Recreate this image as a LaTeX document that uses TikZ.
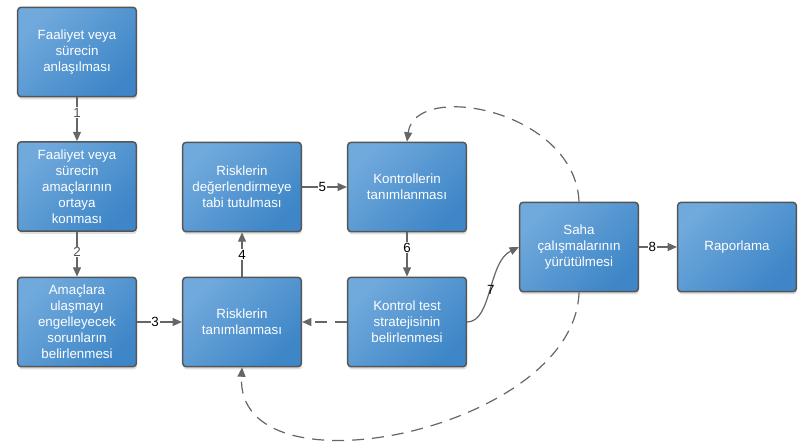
\documentclass[tikz,border=0pt]{standalone}
\usepackage{fontspec}
\setmainfont{Liberation Sans}
\usepackage{xcolor}
\usepackage{tikz}
\usetikzlibrary{arrows.meta,shadows}
\definecolor{boxlight}{HTML}{70A9DC}
\definecolor{boxdark}{HTML}{3E86C7}
\definecolor{boxline}{HTML}{555555}
\definecolor{linkgray}{HTML}{666666}
\tikzset{
  process/.style={
    draw=boxline,
    line width=1.1pt,
    rectangle,
    rounded corners=2.5pt,
    minimum width=89pt,
    minimum height=67pt,
    align=center,
    text=white,
    top color=boxlight,
    bottom color=boxdark,
    shading angle=45,
    drop shadow={shadow xshift=0.6pt, shadow yshift=-2pt, opacity=0.25},
    font=\fontsize{10}{12}\selectfont
  },
  link/.style={
    draw=linkgray,
    line width=0.9pt,
    -{Triangle[length=7pt,width=6pt]}
  },
  backlink/.style={
    link,
    dash pattern=on 9pt off 6pt
  },
  steplabel/.style={
    fill=white,
    inner sep=0.6pt,
    font=\fontsize{10}{12}\selectfont
  }
}

\begin{document}
\begin{tikzpicture}[x=0.75pt, y=-0.75pt]
  \useasboundingbox (0,0) rectangle (807,447);

  \node[process] (anlama) at (77,52) {Faaliyet veya\\sürecin\\anlaşılması};
  \node[process] (amac) at (77,186.5) {Faaliyet veya\\sürecin\\amaçlarının\\ortaya\\konması};
  \node[process] (sorun) at (77,322) {Amaçlara\\ulaşmayı\\engelleyecek\\sorunların\\belirlenmesi};
  \node[process] (risk) at (242,322) {Risklerin\\tanımlanması};
  \node[process] (degerlendir) at (242,187) {Risklerin\\değerlendirmeye\\tabi tutulması};
  \node[process] (kontrol) at (407,187) {Kontrollerin\\tanımlanması};
  \node[process] (strateji) at (407,322) {Kontrol test\\stratejisinin\\belirlenmesi};
  \node[process] (saha) at (579,247) {Saha\\çalışmalarının\\yürütülmesi};
  \node[process] (rapor) at (737,247) {Raporlama};

  \draw[link] (anlama) -- node[steplabel, text=boxline, pos=0.35] {1} (amac);
  \draw[link] (amac) -- node[steplabel, text=boxline, pos=0.45] {2} (sorun);
  \draw[link] (sorun) -- node[steplabel, pos=0.4] {3} (risk);
  \draw[link] (risk) -- node[steplabel, pos=0.5] {4} (degerlendir);
  \draw[link] (degerlendir) -- node[steplabel, pos=0.45] {5} (kontrol);
  \draw[link] (kontrol) -- node[steplabel, pos=0.35] {6} (strateji);
  \draw[link] (strateji.east) .. controls (492,322) and (488,262) .. node[steplabel, fill=none, pos=0.5] {7} (saha.west);
  \draw[link] (saha) -- node[steplabel, pos=0.35] {8} (rapor);

  \draw[backlink] (strateji) -- (risk);
  \draw[backlink] (saha.north) .. controls (575,110) and (415,80) .. (kontrol.north);
  \draw[backlink] (saha.south) .. controls (575,430) and (235,500) .. (risk.south);
\end{tikzpicture}
\end{document}
